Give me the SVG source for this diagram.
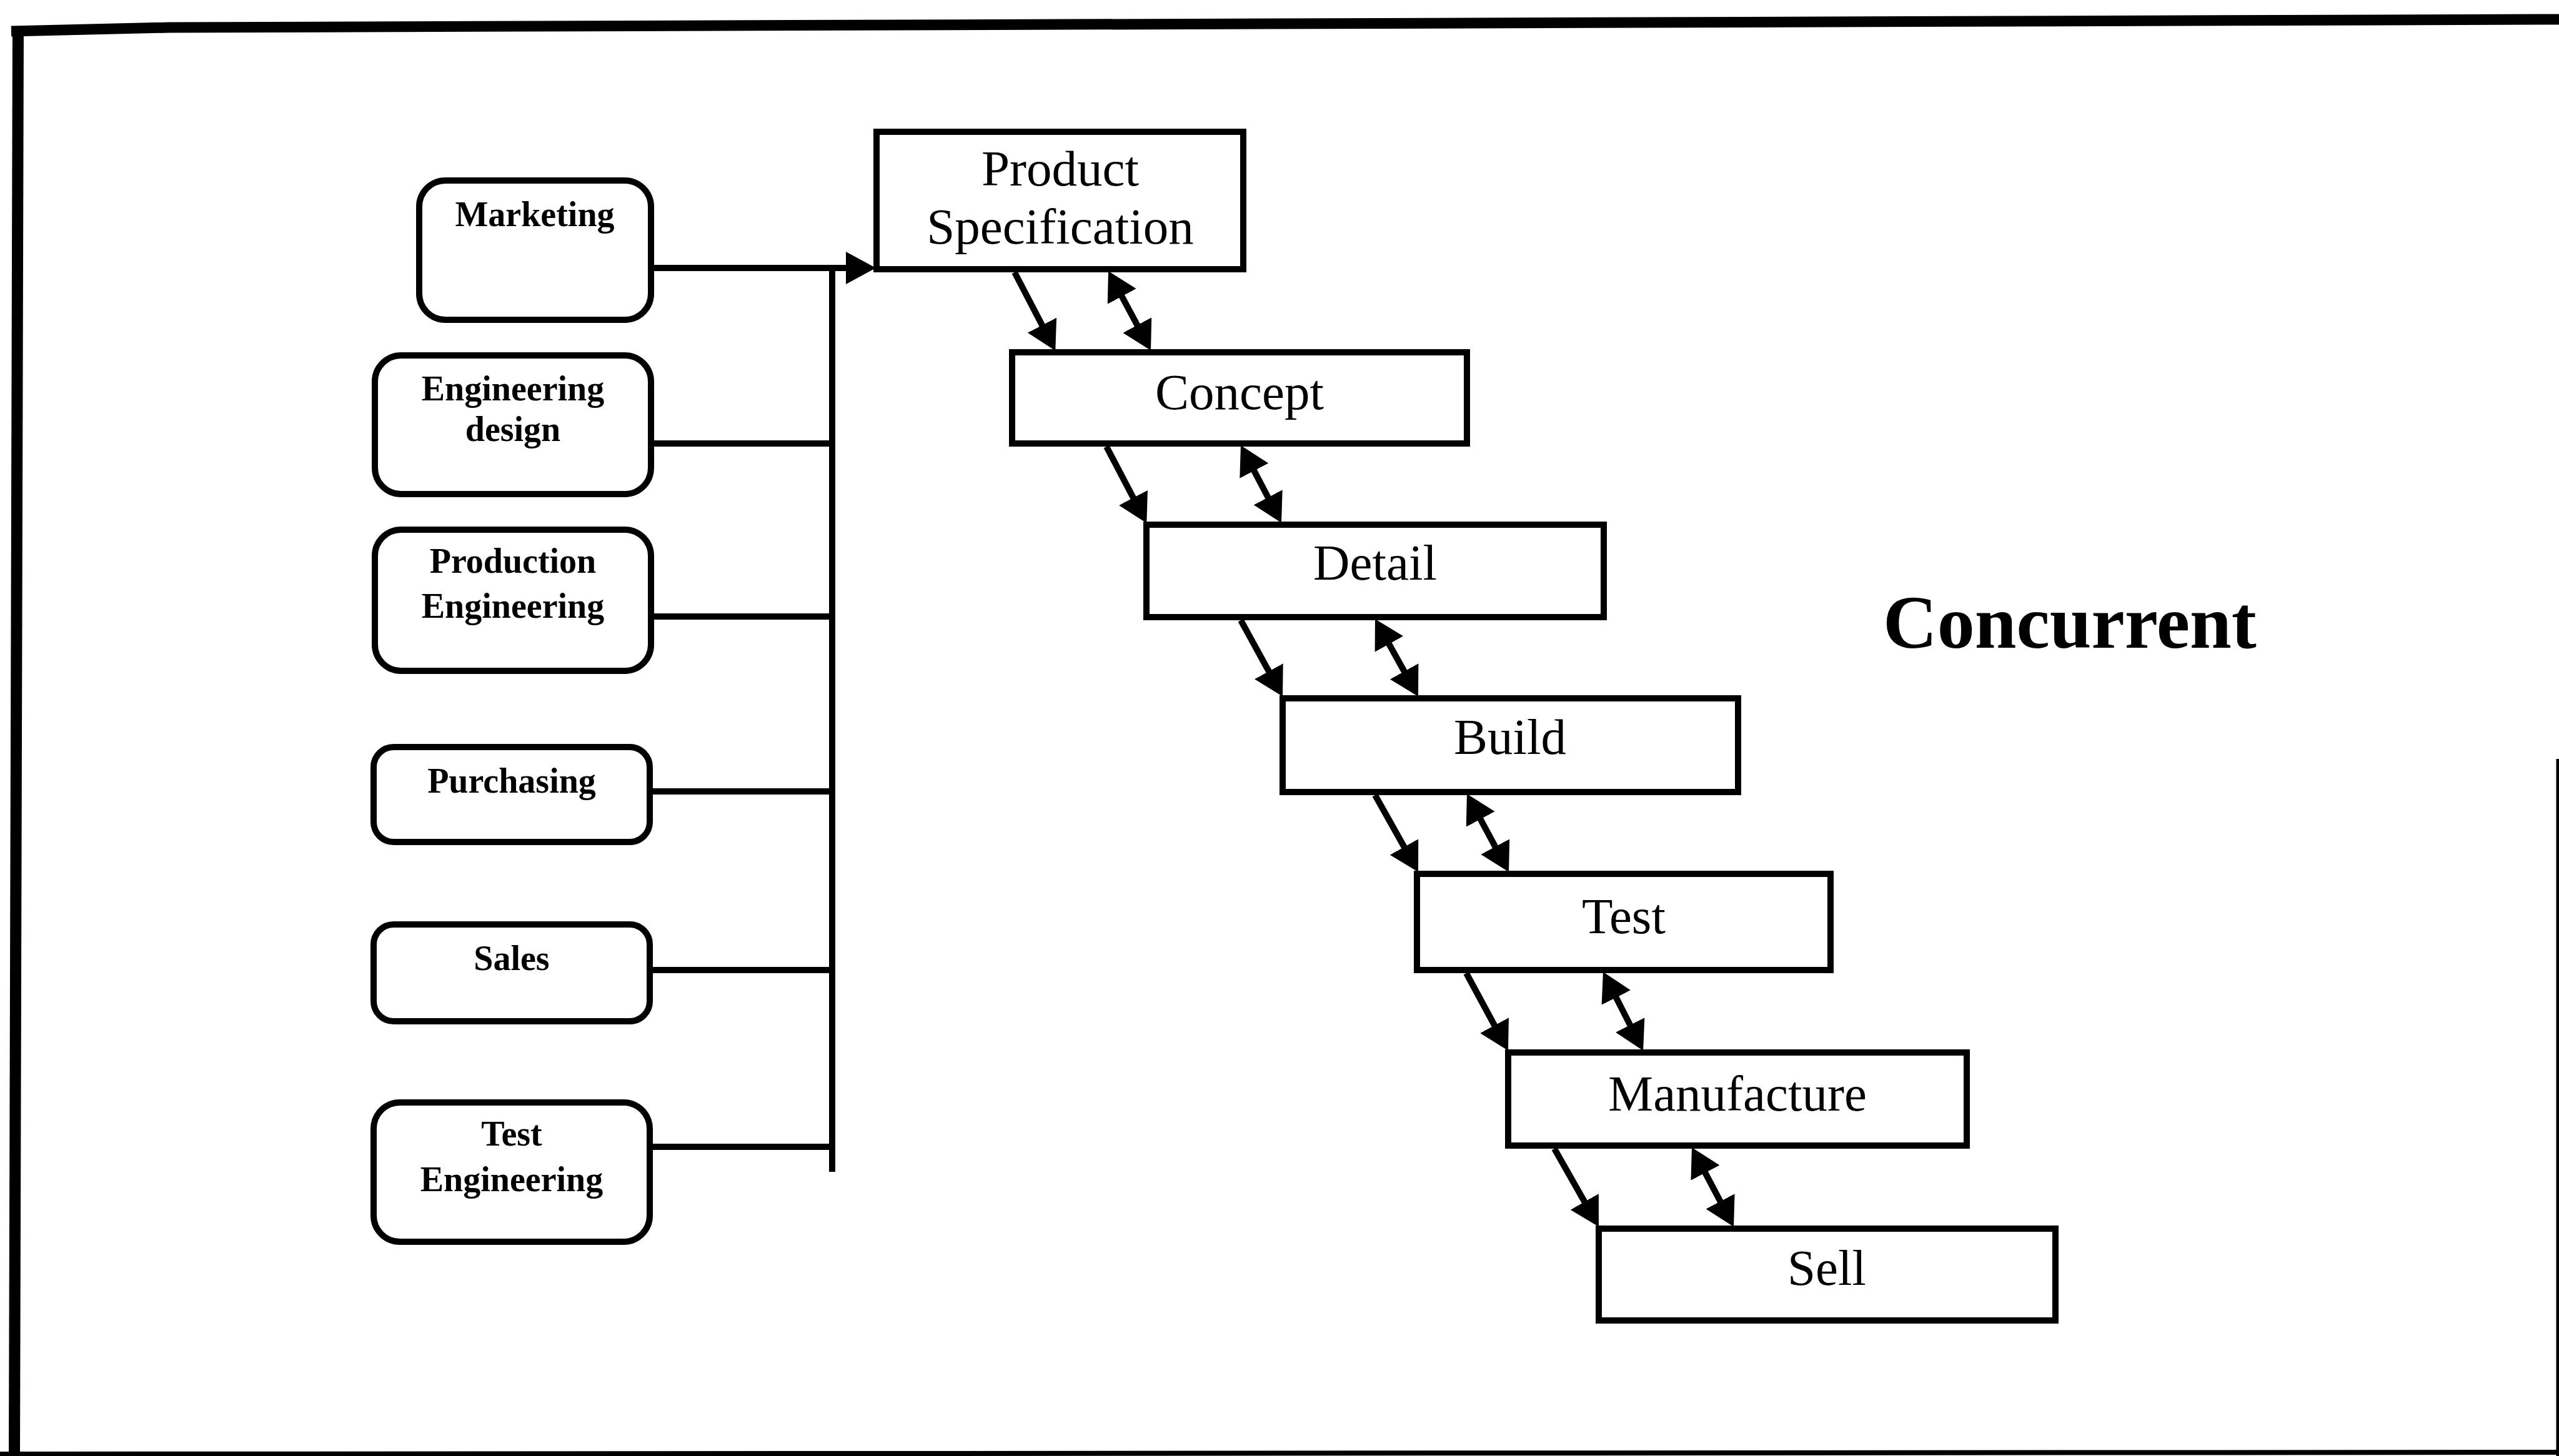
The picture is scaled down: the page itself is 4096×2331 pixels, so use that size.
<svg xmlns="http://www.w3.org/2000/svg" width="4096" height="2331" viewBox="0 0 4096 2331">
<defs>
<style>
.frame{fill:none;stroke:#000;stroke-linecap:butt}
.dept{fill:#fff;stroke:#000;stroke-width:10}
.stage{fill:#fff;stroke:#000;stroke-width:10}
.conn{fill:none;stroke:#000;stroke-width:10}
.dl{font-family:"Liberation Serif","Times New Roman",serif;font-weight:bold;font-size:56px;text-anchor:middle;fill:#000}
.sl{font-family:"Liberation Serif","Times New Roman",serif;font-size:81px;text-anchor:middle;fill:#000}
.title{font-family:"Liberation Serif","Times New Roman",serif;font-weight:bold;font-size:120px;fill:#000}
</style>
<marker id="ah" markerUnits="userSpaceOnUse" markerWidth="46" markerHeight="52" viewBox="0 0 46 52" refX="32" refY="26" orient="auto-start-reverse">
<path d="M0,0 L46,26 L0,52 z" fill="#000"/>
</marker>
<marker id="ahm" markerUnits="userSpaceOnUse" markerWidth="48" markerHeight="52" viewBox="0 0 48 52" refX="34" refY="26" orient="auto">
<path d="M0,0 L48,26 L0,52 z" fill="#000"/>
</marker>
</defs>
<rect width="4096" height="2331" fill="#fff"/>
<g id="frame">
<polyline class="frame" points="18,50 270,44 4096,31" stroke-width="17"/>
<line class="frame" x1="29" y1="42" x2="23" y2="2331" stroke-width="18"/>
<line class="frame" x1="4094" y1="1215" x2="4094" y2="2331" stroke-width="5"/>
<line class="frame" x1="0" y1="2328" x2="4096" y2="2325" stroke-width="8"/>
</g>
<g id="connectors">
<line class="conn" x1="1042" y1="429" x2="1388" y2="429" marker-end="url(#ahm)"/>
<line class="conn" x1="1332" y1="424" x2="1332" y2="1876"/>
<line class="conn" x1="1042" y1="710" x2="1332" y2="710"/>
<line class="conn" x1="1042" y1="987" x2="1332" y2="987"/>
<line class="conn" x1="1040" y1="1267" x2="1332" y2="1267"/>
<line class="conn" x1="1040" y1="1553" x2="1332" y2="1553"/>
<line class="conn" x1="1040" y1="1836" x2="1332" y2="1836"/>
<line class="conn" x1="1624" y1="436" x2="1682.8" y2="549" marker-end="url(#ah)"/>
<line class="conn" x1="1780.6" y1="446.3" x2="1835.4" y2="548.7" marker-start="url(#ah)" marker-end="url(#ah)"/>
<line class="conn" x1="1771" y1="715" x2="1828.8" y2="825.2" marker-end="url(#ah)"/>
<line class="conn" x1="1992.5" y1="725.4" x2="2044.5" y2="824.6" marker-start="url(#ah)" marker-end="url(#ah)"/>
<line class="conn" x1="1986" y1="993" x2="2046.3" y2="1102.8" marker-end="url(#ah)"/>
<line class="conn" x1="2207.8" y1="1003.2" x2="2263.2" y2="1102.8" marker-start="url(#ah)" marker-end="url(#ah)"/>
<line class="conn" x1="2201" y1="1273" x2="2263.2" y2="1383.8" marker-end="url(#ah)"/>
<line class="conn" x1="2354.6" y1="1283.3" x2="2408.4" y2="1383.7" marker-start="url(#ah)" marker-end="url(#ah)"/>
<line class="conn" x1="2347" y1="1558" x2="2407.3" y2="1669.7" marker-end="url(#ah)"/>
<line class="conn" x1="2572.3" y1="1568.5" x2="2623.7" y2="1669.5" marker-start="url(#ah)" marker-end="url(#ah)"/>
<line class="conn" x1="2488" y1="1839" x2="2552.1" y2="1951.8" marker-end="url(#ah)"/>
<line class="conn" x1="2714.5" y1="1849.4" x2="2768.5" y2="1951.6" marker-start="url(#ah)" marker-end="url(#ah)"/>
</g>
<g id="marketing">
<rect class="dept" x="671" y="289" width="371" height="223" rx="42"/>
<text class="dl" x="856" y="362">Marketing</text>
</g>
<g id="engineering-design">
<rect class="dept" x="600" y="569" width="442" height="222" rx="42"/>
<text class="dl" x="821" y="641">Engineering</text>
<text class="dl" x="821" y="706">design</text>
</g>
<g id="production-engineering">
<rect class="dept" x="600" y="848" width="442" height="226" rx="42"/>
<text class="dl" x="821" y="917">Production</text>
<text class="dl" x="821" y="989">Engineering</text>
</g>
<g id="purchasing">
<rect class="dept" x="598" y="1196" width="442" height="152" rx="32"/>
<text class="dl" x="819" y="1269">Purchasing</text>
</g>
<g id="sales">
<rect class="dept" x="598" y="1480" width="442" height="155" rx="32"/>
<text class="dl" x="819" y="1553">Sales</text>
</g>
<g id="test-engineering">
<rect class="dept" x="598" y="1765" width="442" height="223" rx="42"/>
<text class="dl" x="819" y="1834">Test</text>
<text class="dl" x="819" y="1907">Engineering</text>
</g>
<g id="product-specification">
<rect class="stage" x="1403" y="211" width="587" height="220"/>
<text class="sl" x="1697" y="297">Product</text>
<text class="sl" x="1697" y="390">Specification</text>
</g>
<g id="concept">
<rect class="stage" x="1620" y="564" width="728" height="146"/>
<text class="sl" x="1984" y="655">Concept</text>
</g>
<g id="detail">
<rect class="stage" x="1835" y="840" width="732" height="148"/>
<text class="sl" x="2201" y="928">Detail</text>
</g>
<g id="build">
<rect class="stage" x="2053" y="1118" width="729" height="150"/>
<text class="sl" x="2417" y="1207">Build</text>
</g>
<g id="test">
<rect class="stage" x="2268" y="1399" width="662" height="154"/>
<text class="sl" x="2599" y="1494">Test</text>
</g>
<g id="manufacture">
<rect class="stage" x="2414" y="1685" width="734" height="149"/>
<text class="sl" x="2781" y="1778">Manufacture</text>
</g>
<g id="sell">
<rect class="stage" x="2559" y="1967" width="731" height="147"/>
<text class="sl" x="2924" y="2057">Sell</text>
</g>
<g id="title">
<text class="title" x="3014" y="1037">Concurrent</text>
</g>
</svg>
